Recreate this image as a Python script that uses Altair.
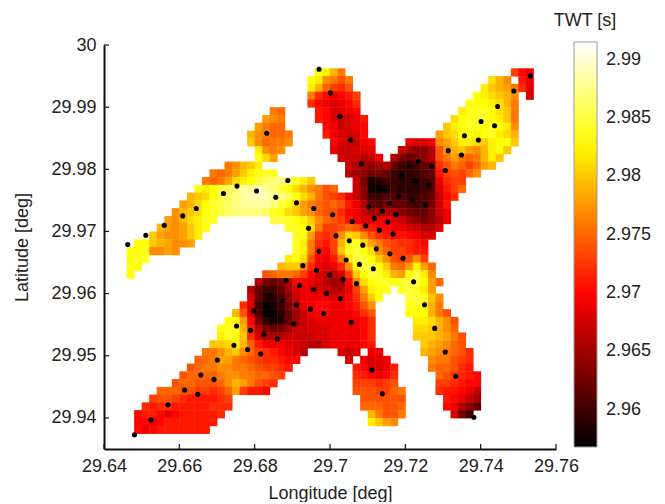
import altair as alt
import pandas as pd

# Gridded two-way time. Row -> (first column, level codes)
CODES = "0123456789abcdefghijklmnopqrstuvwxyz"
T0, TSTEP = 2.957, 0.001
LON0, DLON = 29.64, 0.002
LAT0, DLAT = 30.0, 0.00125

GRID = {
 3: [(28,"qpmj"),(54,"gdc")],
 4: [(27,"qpkjhj"),(51,"omk"),(55,"ec")],
 5: [(27,"pmigfh"),(50,"pnmlj"),(55,"fb")],
 6: [(27,"jfdcdeg"),(49,"qponmk"),(56,"b")],
 7: [(27,"fdcbcdf"),(48,"qqqpomj")],
 8: [(28,"edbbcd"),(47,"pqrrqonj"),(22,"ji")],
 9: [(28,"edbabce"),(46,"oqrrrqpnj"),(21,"lkj")],
 10: [(29,"dcabcd"),(45,"npqrrqrqpk"),(20,"ljii")],
 11: [(29,"ecbabd"),(44,"lnoqqpqrpom"),(19,"mkjiij")],
 12: [(30,"dbaacd"),(40,"cbbc"),(44,"klnpponpqqn"),(19,"nkijjk")],
 13: [(30,"caabbc"),(39,"a8779"),(44,"hkmnlkmpqn"),(20,"pkjk")],
 14: [(31,"baa9ac"),(38,"965679"),(44,"hjljijmpn"),(20,"rol")],
 15: [(16,"jkmnp"),(32,"a98789"),(38,"532356"),(44,"fhjigilm")],
 16: [(14,"jijlnpqrr"),(32,"987665"),(38,"322345"),(44,"eghgik")],
 17: [(13,"jijlopqstuutrpn"),(33,"a6123"),(38,"322234"),(44,"cfgg")],
 18: [(12,"qpqstuvvwvusqomkjhi"),(33,"a7102"),(38,"322234"),(44,"begi")],
 19: [(11,"mnoqstuvwwwvutqomjhg"),(31,"fca7334443345adf")],
 20: [(10,"lmoqrstuvvvvusqnljih"),(30,"ihec9546554346ae")],
 21: [(9,"kmnoqrstuuuutrqonlk"),(28,"ihhfdca889876557ac")],
 22: [(8,"lkmoprr"),(22,"ssrqpnkihgecbbccba87679c")],
 23: [(7,"mlklnpq"),(24,"rrqojgghihfeddccba99b")],
 24: [(6,"nlkklnp"),(25,"rqlgfgkonkhfededcbb")],
 25: [(4,"qqnmlkkl"),(25,"rpjfegmqroljhgffed")],
 26: [(3,"qqr"),(6,"kklk"),(25,"rpjedgnrsqokiggfee")],
 27: [(3,"qrr"),(24,"pqohdcejpssqnkhghkg")],
 28: [(3,"rq"),(23,"mnnkfcbcfkqssqnjilpli")],
 29: [(3,"q"),(21,"hijjigdba9bgnqsrpmlqspk")],
 30: [(20,"96569ddcb988dkoqrrqrssqli")],
 31: [(19,"953358bccba99cglpqr"),(39,"rsrpl")],
 32: [(19,"b52247accccbcdfjnq"),(40,"ssrnk")],
 33: [(18,"fb301369ccddccdehk"),(40,"rrqmj")],
 34: [(17,"mhb400258acddcccdfh"),(40,"qqqmjh")],
 35: [(16,"qqld621358abccccccdf"),(41,"ppomkh")],
 36: [(15,"qrrme96568aabbbccccdf"),(41,"oonmki")],
 37: [(15,"prqnfb999aaaabbccccdf"),(41,"nnnmljh")],
 38: [(14,"nnopmiecccbba99bccccde"),(42,"nmlkih")],
 39: [(13,"jjkmnkigfedcb9"),(31,"bab"),(35,"cc"),(42,"mlkjihf")],
 40: [(12,"iijlljihgffedd"),(32,"b"),(34,"cbbc"),(43,"kjjhgf")],
 41: [(11,"hijjkkjjihggfe"),(33,"edbbce"),(43,"jiihfe")],
 42: [(10,"hiiiijkkjjiihg"),(33,"fedcdf"),(44,"ihgfed")],
 43: [(9,"hiihhhikmljhgf"),(33,"gggfgh"),(44,"ggfedd")],
 44: [(7,"iiihhggfgil"),(18,"geed"),(33,"hhhggij"),(44,"feedca")],
 45: [(6,"ghhgfeeeefg"),(34,"hhhhhh"),(45,"edca8")],
 46: [(5,"feffeeeeefff"),(34,"iiihhi"),(45,"dc975")],
 47: [(4,"deedcdeeeeef"),(35,"mjhhj"),(46,"b63")],
 48: [(4,"ddcdeeeeeee"),(35,"pnlk")],
 49: [(4,"dcdeeeeeee")],
}

STATION_LON = [29.6463,29.6511,29.6560,29.6609,29.6645,29.6717,29.6753,29.6805,29.6856,29.6888,29.6911,29.6957,29.6943,29.6832,29.6971,
 29.7001,29.7026,29.7055,29.7083,29.7147,29.7183,29.7159,29.7103,29.7139,29.7118,29.7175,29.7153,29.7095,29.7059,29.7007,29.7131,29.7167,
 29.7016,29.7051,29.7087,29.7123,29.7190,29.7227,29.7262,29.7218,29.7254,29.7235,29.7270,29.7306,29.7314,29.7349,29.7357,29.7394,29.7401,
 29.7437,29.7445,29.7488,29.7532,29.6481,29.6525,29.6570,29.6614,29.6649,29.6657,29.6692,29.6701,29.6745,29.6781,29.6816,29.6752,29.6789,
 29.6824,29.6860,29.6797,29.6868,29.6904,29.6840,29.6875,29.6911,29.6948,29.6983,29.6884,29.6919,29.6956,29.6991,29.6928,29.6964,29.6999,
 29.6971,29.7043,29.7078,29.7115,29.7035,29.7070,29.7027,29.7056,29.7159,29.7194,29.7222,29.7251,29.7278,29.7306,29.7334,29.7382,29.7111,29.7139]
STATION_LAT = [29.9679,29.9694,29.9710,29.9725,29.9737,29.9761,29.9773,29.9765,29.9755,29.9782,29.9746,29.9737,29.9705,29.9858,29.9961,
 29.9923,29.9885,29.9847,29.9809,29.9765,29.9757,29.9745,29.9740,29.9733,29.9721,29.9727,29.9715,29.9709,29.9716,29.9727,29.9702,29.9696,
 29.9693,29.9685,29.9678,29.9672,29.9789,29.9781,29.9775,29.9751,29.9743,29.9813,29.9805,29.9798,29.9830,29.9823,29.9854,29.9847,29.9877,
 29.9870,29.9901,29.9926,29.9950,29.9373,29.9397,29.9421,29.9445,29.9438,29.9469,29.9462,29.9493,29.9517,29.9510,29.9503,29.9548,29.9541,
 29.9534,29.9527,29.9572,29.9558,29.9551,29.9597,29.9589,29.9582,29.9575,29.9568,29.9621,29.9613,29.9607,29.9600,29.9645,29.9637,29.9630,
 29.9668,29.9654,29.9647,29.9640,29.9623,29.9616,29.9592,29.9554,29.9664,29.9657,29.9619,29.9582,29.9544,29.9506,29.9467,29.9401,29.9477,29.9439]

X_TICKS = [29.64,29.66,29.68,29.70,29.72,29.74,29.76]
Y_TICKS = [29.94,29.95,29.96,29.97,29.98,29.99,30.0]
CBAR_TICKS = [2.96,2.965,2.97,2.975,2.98,2.985,2.99]
CBAR_DOMAIN = [2.9568,2.9915]
CBAR_COLORS = ["#000000","#550000","#aa0000","#ff0000","#ff5500","#ffaa00","#ffff00","#ffff80","#ffffff"]

rows = []
for r, segs in GRID.items():
    for start, s in segs:
        for i, ch in enumerate(s):
            c = start + i
            rows.append(dict(x=LON0+DLON*c, x2=LON0+DLON*(c+1.06),
                             y=LAT0-DLAT*r, y2=LAT0-DLAT*(r+1.06),
                             v=T0+TSTEP*CODES.index(ch)))
cells = pd.DataFrame(rows)
stations = pd.DataFrame(dict(lon=STATION_LON, lat=STATION_LAT))

FONT = "Liberation Sans"
TXT = "#222222"
FS = 18
W, H = 452, 404
xs = alt.Scale(domain=[29.64,29.76], nice=False, zero=False)
ys = alt.Scale(domain=[29.935,30.0], nice=False, zero=False)
cs = alt.Scale(domain=CBAR_DOMAIN, range=CBAR_COLORS, nice=False, zero=False, interpolate="rgb")

xaxis = alt.Axis(values=X_TICKS, format=".2~f", title="Longitude [deg]",
        grid=False, ticks=False, domainWidth=2, domainColor="#111111", labelFont=FONT, labelFontSize=FS,
        labelColor=TXT, labelPadding=8, titleFont=FONT, titleFontSize=FS, titleFontWeight="normal",
        titleColor=TXT, titlePadding=9, labelFlush=False)

heat = alt.Chart(cells).mark_rect().encode(
    x=alt.X("x:Q", scale=xs, axis=xaxis),
    x2="x2:Q",
    y=alt.Y("y:Q", scale=ys, axis=alt.Axis(values=Y_TICKS, format=".2~f", title="Latitude [deg]",
        grid=False, ticks=False, domainWidth=2, domainColor="#111111", labelFont=FONT, labelFontSize=FS,
        labelColor=TXT, labelPadding=8, titleFont=FONT, titleFontSize=FS, titleFontWeight="normal",
        titleColor=TXT, titlePadding=19)),
    y2="y2:Q",
    color=alt.Color("v:Q", scale=cs, legend=alt.Legend(type="gradient", orient="none", legendX=470, legendY=-3, title=None,
        values=CBAR_TICKS, format=".3~f", gradientLength=405, gradientThickness=23,
        gradientStrokeColor="#999999", gradientStrokeWidth=1, labelFont=FONT, labelFontSize=FS,
        labelColor=TXT, labelOffset=9)),
)

dots = alt.Chart(stations).mark_circle(size=26, color="#000000", opacity=1).encode(
    x=alt.X("lon:Q", scale=xs, axis=xaxis), y=alt.Y("lat:Q", scale=ys, axis=None))

xt = alt.Chart(pd.DataFrame(dict(v=X_TICKS))).mark_rule(color="#111111", strokeWidth=1.2).encode(
    x=alt.X("v:Q", scale=xs, axis=xaxis), y=alt.value(H), y2=alt.value(H-5))
yt = alt.Chart(pd.DataFrame(dict(v=Y_TICKS))).mark_rule(color="#111111", strokeWidth=1.2).encode(
    y=alt.Y("v:Q", scale=ys, axis=None), x=alt.value(0), x2=alt.value(5))

cby = alt.Scale(domain=[2.9568,2.9915], range=[402,-3], nice=False, zero=False)
cb1 = alt.Chart(pd.DataFrame(dict(v=CBAR_TICKS))).mark_rule(color="#777777", strokeWidth=1).encode(
    y=alt.Y("v:Q", scale=cby, axis=None), x=alt.value(470), x2=alt.value(474))
cb2 = alt.Chart(pd.DataFrame(dict(v=CBAR_TICKS))).mark_rule(color="#777777", strokeWidth=1).encode(
    y=alt.Y("v:Q", scale=cby, axis=None), x=alt.value(489), x2=alt.value(493))
cbt = alt.Chart(pd.DataFrame(dict(t=["TWT [s]"]))).mark_text(font=FONT, fontSize=FS, color=TXT, align="center").encode(
    text="t:N", x=alt.value(481), y=alt.value(-24))

chart = alt.layer(heat, dots, xt, yt, cb1, cb2, cbt).resolve_scale(y="independent").properties(
    width=W, height=H,
    padding=dict(left=96, top=37, right=95, bottom=53),
    autosize=alt.AutoSizeParams(type="none"),
).configure_view(stroke=None)

chart.save("out.html", embed_options={"renderer": "svg", "actions": False})
